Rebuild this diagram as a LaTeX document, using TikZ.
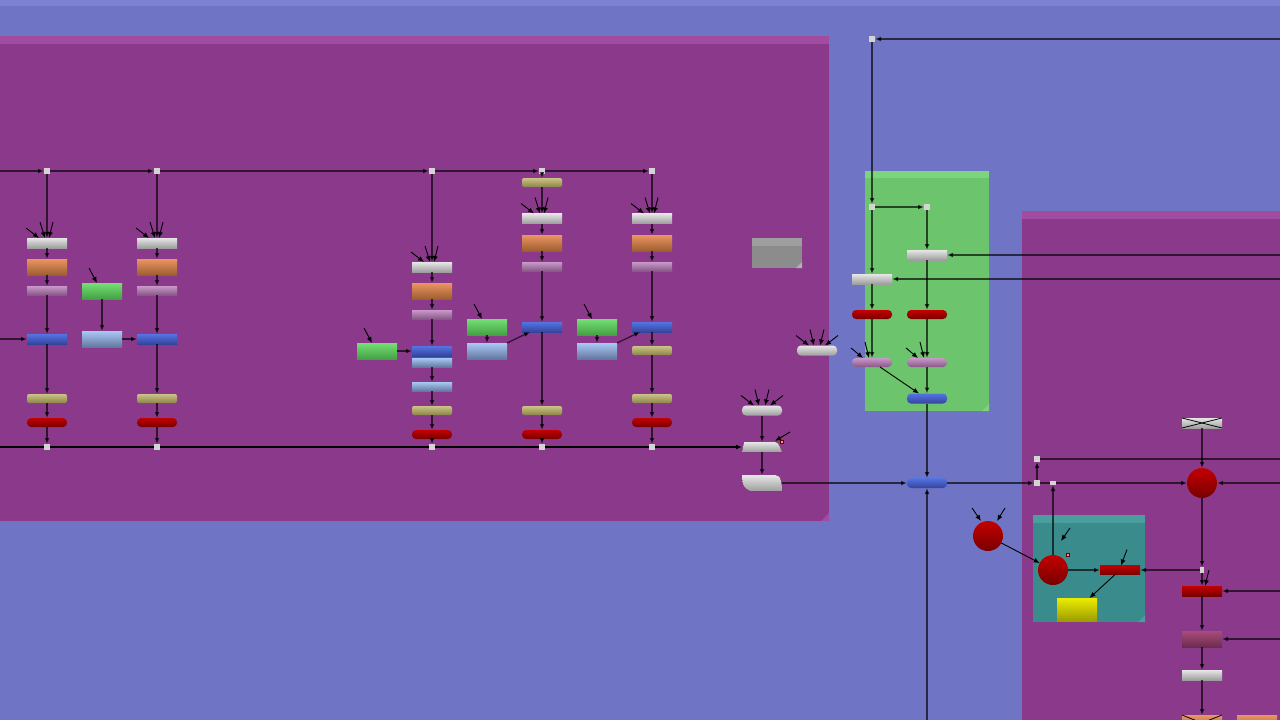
\documentclass[tikz,border=0pt]{standalone}
\usepackage{tikz}
\usetikzlibrary{shapes.geometric, arrows.meta, calc}

\definecolor{canvas}{HTML}{7074C4}
\definecolor{canvastop}{HTML}{7E82D2}
\definecolor{plumpanel}{HTML}{8B3A8B}
\definecolor{plumband}{HTML}{A04CA0}
\definecolor{greenpanel}{HTML}{6CC46C}
\definecolor{greenband}{HTML}{7CD47C}
\definecolor{tealpanel}{HTML}{3A8C8C}
\definecolor{tealband}{HTML}{4A9E9E}
\definecolor{joint}{HTML}{D4D4D4}
\definecolor{silverT}{HTML}{E6E6E6}
\definecolor{silverB}{HTML}{9E9E9E}
\definecolor{copperT}{HTML}{EC9462}
\definecolor{copperB}{HTML}{9C5E30}
\definecolor{lilacT}{HTML}{C898C8}
\definecolor{lilacB}{HTML}{885888}
\definecolor{cobaltT}{HTML}{5474E4}
\definecolor{cobaltB}{HTML}{34449C}
\definecolor{sandT}{HTML}{CCC484}
\definecolor{sandB}{HTML}{8C844C}
\definecolor{rubyT}{HTML}{C40000}
\definecolor{rubyB}{HTML}{780000}
\definecolor{leafT}{HTML}{74E074}
\definecolor{leafB}{HTML}{44A044}
\definecolor{skyT}{HTML}{A8C8F4}
\definecolor{skyB}{HTML}{6478A0}
\definecolor{lemonT}{HTML}{ECEC00}
\definecolor{lemonB}{HTML}{9C9C00}
\definecolor{wineT}{HTML}{A84C7C}
\definecolor{wineB}{HTML}{6C2C4C}

\tikzstyle{box} = [rectangle, minimum width=40, minimum height=10, inner sep=0, outer sep=0]
\tikzstyle{capsule} = [rounded corners=4]
\tikzstyle{silver} = [box, top color=silverT, bottom color=silverB]
\tikzstyle{copper} = [box, minimum height=16, top color=copperT, bottom color=copperB]
\tikzstyle{lilac} = [box, minimum height=9, top color=lilacT, bottom color=lilacB]
\tikzstyle{cobalt} = [box, top color=cobaltT, bottom color=cobaltB]
\tikzstyle{sand} = [box, minimum height=9, rounded corners=2, top color=sandT, bottom color=sandB]
\tikzstyle{ruby} = [box, minimum height=9, top color=rubyT, bottom color=rubyB]
\tikzstyle{leaf} = [box, minimum height=16, top color=leafT, bottom color=leafB]
\tikzstyle{sky} = [box, minimum height=16, top color=skyT, bottom color=skyB]
\tikzstyle{orb} = [circle, minimum size=30, inner sep=0, outer sep=0, top color=rubyT, bottom color=rubyB]
\tikzstyle{metal} = [top color=silverT, bottom color=silverB]
\tikzstyle{junction} = [rectangle, minimum size=6, inner sep=0, outer sep=0, fill=joint]
\tikzstyle{speck} = [rectangle, minimum size=3, inner sep=0, fill=red!45, draw=red!40!black, line width=0.4]
\tikzstyle{link} = [draw=black, draw opacity=0.65, line width=1.3, -{Latex[length=6,width=5]}]
\tikzstyle{line} = [draw=black, draw opacity=0.65, line width=1.3]
\tikzstyle{bus} = [draw=black, line width=1.6]
\tikzstyle{fan} = [black, line width=0.9, -{Latex[length=6,width=5]}]

\begin{document}
\begin{tikzpicture}[x=1pt, y=-1pt]

    % Background and panels
    \useasboundingbox (0,0) rectangle (1280,720);
    \fill[canvas] (0,0) rectangle (1280,720);
    \fill[canvastop] (0,0) rectangle (1280,6);
    \fill[plumpanel] (0,36) rectangle (829,521);
    \fill[plumband] (0,36) rectangle (829,44);
    \fill[plumband] (829,513) -- (829,521) -- (821,521) -- cycle;
    \fill[greenpanel] (865,171) rectangle (989,411);
    \fill[greenband] (865,171) rectangle (989,178);
    \fill[greenband] (989,404) -- (989,411) -- (982,411) -- cycle;
    \fill[plumpanel] (1022,211) rectangle (1280,720);
    \fill[plumband] (1022,211) rectangle (1280,219);
    \fill[tealpanel] (1033,515) rectangle (1145,622);
    \fill[tealband] (1033,515) rectangle (1145,523);
    \fill[tealband] (1145,615) -- (1145,622) -- (1138,622) -- cycle;
    \fill[black!45] (752,238) rectangle (802,268);
    \fill[black!38] (752,238) rectangle (802,246);
    \fill[black!30] (802,262) -- (802,268) -- (796,268) -- cycle;

    % Free ends
    \coordinate (west1) at (0,171);
    \coordinate (west2) at (0,447);
    \coordinate (west3) at (0,339);
    \coordinate (east0) at (1280,39);
    \coordinate (east1) at (1280,255);
    \coordinate (east2) at (1280,279);
    \coordinate (east3) at (1280,459);
    \coordinate (east4) at (1280,483);
    \coordinate (east5) at (1280,591);
    \coordinate (east6) at (1280,639);
    \coordinate (south0) at (927,720);

    % Column 1
    \node (split1) [junction] at (47,171) {};
    \node (white1) [silver] at (47,243) {};
    \node (orange1) [copper] at (47,267) {};
    \node (mauve1) [lilac] at (47,290.5) {};
    \node (blue1) [cobalt] at (47,339) {};
    \node (khaki1) [sand] at (47,398.5) {};
    \node (red1) [ruby, capsule] at (47,422.5) {};
    \node (join1) [junction] at (47,447) {};
    \node (green1) [leaf] at (102,291) {};
    \node (pale1) [sky] at (102,339) {};

    % Column 2
    \node (split2) [junction] at (157,171) {};
    \node (white2) [silver] at (157,243) {};
    \node (orange2) [copper] at (157,267) {};
    \node (mauve2) [lilac] at (157,290.5) {};
    \node (blue2) [cobalt] at (157,339) {};
    \node (khaki2) [sand] at (157,398.5) {};
    \node (red2) [ruby, capsule] at (157,422.5) {};
    \node (join2) [junction] at (157,447) {};

    % Column 3
    \node (split3) [junction] at (432,171) {};
    \node (white3) [silver] at (432,267) {};
    \node (orange3) [copper] at (432,291) {};
    \node (mauve3) [lilac] at (432,314.5) {};
    \node (blue3) [cobalt] at (432,351) {};
    \node (paleA3) [sky, minimum height=9] at (432,362.5) {};
    \node (paleB3) [sky, minimum height=9] at (432,386.5) {};
    \node (khaki3) [sand] at (432,410.5) {};
    \node (red3) [ruby, capsule] at (432,434.5) {};
    \node (join3) [junction] at (432,447) {};
    \node (green3) [leaf] at (377,351) {};
    \node (green4) [leaf] at (487,327) {};
    \node (pale4) [sky] at (487,351) {};

    % Column 4
    \node (split4) [junction] at (542,171) {};
    \node (khakiA4) [sand] at (542,182.5) {};
    \node (white4) [silver] at (542,218.5) {};
    \node (orange4) [copper] at (542,243) {};
    \node (mauve4) [lilac] at (542,266.5) {};
    \node (blue4) [cobalt] at (542,327) {};
    \node (khaki4) [sand] at (542,410.5) {};
    \node (red4) [ruby, capsule] at (542,434.5) {};
    \node (join4) [junction] at (542,447) {};
    \node (green5) [leaf] at (597,327) {};
    \node (pale5) [sky] at (597,351) {};

    % Column 5
    \node (split5) [junction] at (652,171) {};
    \node (white5) [silver] at (652,218.5) {};
    \node (orange5) [copper] at (652,243) {};
    \node (mauve5) [lilac] at (652,266.5) {};
    \node (blue5) [cobalt] at (652,327) {};
    \node (khakiA5) [sand] at (652,350.5) {};
    \node (khaki5) [sand] at (652,398.5) {};
    \node (red5) [ruby, capsule] at (652,422.5) {};
    \node (join5) [junction] at (652,447) {};

    % Top and bottom lines
    \draw [link] (west1) -- (split1);
    \draw [link] (split1) -- (split2);
    \draw [link] (split2) -- (split3);
    \draw [link] (split3) -- (split4);
    \draw [link] (split4) -- (split5);
    \draw [link] (west3) -- (blue1);
    \draw [bus] (west2) -- (join1) -- (join2) -- (join3) -- (join4) -- (join5);

    % Column chains
    \draw [link] (split1) -- (white1);
    \draw [link] (white1) -- (orange1);
    \draw [link] (orange1) -- (mauve1);
    \draw [link] (mauve1) -- (blue1);
    \draw [link] (blue1) -- (khaki1);
    \draw [link] (khaki1) -- (red1);
    \draw [link] (red1) -- (join1);
    \draw [link] (green1) -- (pale1);
    \draw [link] (pale1) -- (blue2);

    \draw [link] (split2) -- (white2);
    \draw [link] (white2) -- (orange2);
    \draw [link] (orange2) -- (mauve2);
    \draw [link] (mauve2) -- (blue2);
    \draw [link] (blue2) -- (khaki2);
    \draw [link] (khaki2) -- (red2);
    \draw [link] (red2) -- (join2);

    \draw [link] (split3) -- (white3);
    \draw [link] (white3) -- (orange3);
    \draw [link] (orange3) -- (mauve3);
    \draw [link] (mauve3) -- (blue3);
    \draw [link] (paleA3) -- (paleB3);
    \draw [link] (paleB3) -- (khaki3);
    \draw [link] (khaki3) -- (red3);
    \draw [link] (red3) -- (join3);
    \draw [link] (green3) -- (blue3);
    \draw [link] (green4) -- (pale4);
    \draw [link] (pale4.north east) -- ($(blue4.south west)+(8,0)$);

    \draw [link] (split4) -- (khakiA4);
    \draw [link] (khakiA4) -- (white4);
    \draw [link] (white4) -- (orange4);
    \draw [link] (orange4) -- (mauve4);
    \draw [link] (mauve4) -- (blue4);
    \draw [link] (blue4) -- (khaki4);
    \draw [link] (khaki4) -- (red4);
    \draw [link] (red4) -- (join4);
    \draw [link] (green5) -- (pale5);
    \draw [link] (pale5.north east) -- ($(blue5.south west)+(8,0)$);

    \draw [link] (split5) -- (white5);
    \draw [link] (white5) -- (orange5);
    \draw [link] (orange5) -- (mauve5);
    \draw [link] (mauve5) -- (blue5);
    \draw [link] (blue5) -- (khakiA5);
    \draw [link] (khakiA5) -- (khaki5);
    \draw [link] (khaki5) -- (red5);
    \draw [link] (red5) -- (join5);

    % Incoming fans
    \draw [fan] ($(white1.north)+(-21,-10)$) -- ($(white1.north)+(-8,0)$);
    \draw [fan] ($(white1.north)+(-7,-16)$) -- ($(white1.north)+(-2,0)$);
    \draw [fan] ($(white1.north)+(6,-16)$) -- ($(white1.north)+(2,0)$);
    \draw [fan] ($(white2.north)+(-21,-10)$) -- ($(white2.north)+(-8,0)$);
    \draw [fan] ($(white2.north)+(-7,-16)$) -- ($(white2.north)+(-2,0)$);
    \draw [fan] ($(white2.north)+(6,-16)$) -- ($(white2.north)+(2,0)$);
    \draw [fan] ($(white3.north)+(-21,-10)$) -- ($(white3.north)+(-8,0)$);
    \draw [fan] ($(white3.north)+(-7,-16)$) -- ($(white3.north)+(-2,0)$);
    \draw [fan] ($(white3.north)+(6,-16)$) -- ($(white3.north)+(2,0)$);
    \draw [fan] ($(white4.north)+(-21,-10)$) -- ($(white4.north)+(-8,0)$);
    \draw [fan] ($(white4.north)+(-7,-16)$) -- ($(white4.north)+(-2,0)$);
    \draw [fan] ($(white4.north)+(6,-16)$) -- ($(white4.north)+(2,0)$);
    \draw [fan] ($(white5.north)+(-21,-10)$) -- ($(white5.north)+(-8,0)$);
    \draw [fan] ($(white5.north)+(-7,-16)$) -- ($(white5.north)+(-2,0)$);
    \draw [fan] ($(white5.north)+(6,-16)$) -- ($(white5.north)+(2,0)$);
    \draw [fan] ($(green1.north)+(-13,-15)$) -- ($(green1.north)+(-5,0)$);
    \draw [fan] ($(green3.north)+(-13,-15)$) -- ($(green3.north)+(-5,0)$);
    \draw [fan] ($(green4.north)+(-13,-15)$) -- ($(green4.north)+(-5,0)$);
    \draw [fan] ($(green5.north)+(-13,-15)$) -- ($(green5.north)+(-5,0)$);

    % Middle group
    \node (paleA) [silver, capsule] at (762,410.5) {};
    \node (slant) [box] at (762,447) {};
    \node (card) [box, minimum height=16] at (762,483) {};
    \node (paleB) [silver, capsule] at (817,350.5) {};
    \fill [metal] (slant.south west) -- ($(slant.north west)+(2,0)$) -- ($(slant.north east)+(-10,0)$)
        .. controls ($(slant.north east)+(-4,0)$) .. (slant.south east) -- cycle;
    \fill [metal] (card.north west) .. controls ($(card.west)+(1,4)$) .. ($(card.south west)+(8,0)$)
        -- (card.south east) -- ($(card.east)+(0,4)$) .. controls ($(card.north east)+(-2,0)$) .. ($(card.north east)+(-12,0)$) -- cycle;
    \node (spot1) [speck] at (782,442) {};
    \draw [bus, -{Latex[length=6,width=5]}] (join5) -- (slant.west);
    \draw [link] (paleA) -- (slant);
    \draw [link] (slant) -- (card);
    \draw [fan] ($(slant.center)+(28,-15)$) -- ($(slant.center)+(13,-6)$);
    \draw [fan] ($(paleA.north)+(-21,-10)$) -- ($(paleA.north)+(-8,0)$);
    \draw [fan] ($(paleA.north)+(-7,-16)$) -- ($(paleA.north)+(-3,0)$);
    \draw [fan] ($(paleA.north)+(7,-16)$) -- ($(paleA.north)+(3,0)$);
    \draw [fan] ($(paleA.north)+(21,-10)$) -- ($(paleA.north)+(8,0)$);
    \draw [fan] ($(paleB.north)+(-21,-10)$) -- ($(paleB.north)+(-8,0)$);
    \draw [fan] ($(paleB.north)+(-7,-16)$) -- ($(paleB.north)+(-3,0)$);
    \draw [fan] ($(paleB.north)+(7,-16)$) -- ($(paleB.north)+(3,0)$);
    \draw [fan] ($(paleB.north)+(21,-10)$) -- ($(paleB.north)+(8,0)$);

    % Green group
    \node (split6) [junction] at (872,39) {};
    \node (split7) [junction] at (872,207) {};
    \node (split8) [junction] at (927,207) {};
    \node (paleC) [silver] at (872,279) {};
    \node (paleD) [silver] at (927,255) {};
    \node (redC) [ruby, capsule] at (872,314.5) {};
    \node (redD) [ruby, capsule] at (927,314.5) {};
    \node (mauveC) [lilac, capsule] at (872,362.5) {};
    \node (mauveD) [lilac, capsule] at (927,362.5) {};
    \node (blueE) [cobalt, capsule] at (927,398.5) {};
    \node (blueF) [cobalt, capsule] at (927,483) {};
    \draw [link] (east0) -- (split6);
    \draw [link] (split6) -- (split7);
    \draw [link] (split7) -- (split8);
    \draw [link] (split7) -- (paleC);
    \draw [link] (split8) -- (paleD);
    \draw [link] (east1) -- (paleD.east);
    \draw [link] (east2) -- (paleC.east);
    \draw [link] (paleC) -- (redC);
    \draw [link] (paleD) -- (redD);
    \draw [link] (redC) -- (mauveC);
    \draw [link] (redD) -- (mauveD);
    \draw [fan] ($(mauveC.north)+(-21,-10)$) -- ($(mauveC.north)+(-9,0)$);
    \draw [fan] ($(mauveC.north)+(-7,-16)$) -- ($(mauveC.north)+(-3,0)$);
    \draw [fan] ($(mauveD.north)+(-21,-10)$) -- ($(mauveD.north)+(-9,0)$);
    \draw [fan] ($(mauveD.north)+(-7,-16)$) -- ($(mauveD.north)+(-3,0)$);
    \draw [fan] ($(mauveC.south)+(8,0)$) -- ($(blueE.north west)+(12,0)$);
    \draw [link] (mauveD) -- (blueE);
    \draw [link] (blueE) -- (blueF);
    \draw [link] (south0) -- (blueF);
    \draw [link] (card.east) -- (blueF);

    % Right group
    \node (split9) [junction] at (1037,483) {};
    \node (split10) [junction] at (1037,459) {};
    \node (split11) [junction, minimum height=4] at (1053,483) {};
    \node (cross) [silver] at (1202,423) {};
    \node (orbA) [orb] at (1202,483) {};
    \node (orbB) [orb] at (988,536) {};
    \node (orbC) [orb] at (1053,570) {};
    \node (spot2) [speck] at (1068,555) {};
    \node (redR) [ruby] at (1120,570) {};
    \node (lemon) [box, minimum height=23, top color=lemonT, bottom color=lemonB] at (1077,609.5) {};
    \node (split12) [junction, minimum width=4] at (1202,570) {};
    \node (redS) [ruby, minimum height=10] at (1202,591) {};
    \node (wine) [box, minimum height=16, top color=wineT, bottom color=wineB] at (1202,639) {};
    \node (paleE) [silver] at (1202,675) {};
    \node (crossB) [copper] at (1202,723) {};
    \node (orangeB) [copper] at (1257,723) {};
    \draw [black, line width=0.8] (cross.north west) -- (cross.south east);
    \draw [black, line width=0.8] (cross.south west) -- (cross.north east);
    \draw [black, line width=0.8] (crossB.north west) -- (crossB.south east);
    \draw [black, line width=0.8] (crossB.south west) -- (crossB.north east);

    \draw [link] (blueF) -- (split9);
    \draw [link] (split9) -- (split10);
    \draw [line] (split10) -- (east3);
    \draw [line] (split9) -- (split11);
    \draw [link] (split11) -- (orbA);
    \draw [link] (east4) -- (orbA);
    \draw [link] (cross) -- (orbA);
    \draw [link] (orbA) -- (split12);
    \draw [link] (split12) -- (redS);
    \draw [link] (split12) -- (redR);
    \draw [link] (east5) -- (redS);
    \draw [link] (redS) -- (wine);
    \draw [link] (east6) -- (wine);
    \draw [link] (wine) -- (paleE);
    \draw [link] (paleE) -- (crossB);
    \draw [fan] ($(redS.north)+(7,-16)$) -- ($(redS.north)+(3,0)$);

    \draw [fan] ($(orbB.north)+(-16,-13)$) -- ($(orbB.north)+(-7,0)$);
    \draw [fan] ($(orbB.north)+(17,-13)$) -- ($(orbB.north)+(9,0)$);
    \draw [fan] (orbB) -- (orbC);
    \draw [link] (orbC) -- (split11);
    \draw [fan] ($(orbC.north)+(17,-27)$) -- ($(orbC.north)+(8,-14)$);
    \draw [link] (orbC) -- (redR);
    \draw [fan] ($(redR.north)+(7,-16)$) -- ($(redR.north)+(1,0)$);
    \draw [fan] (redR) -- (lemon);

\end{tikzpicture}
\end{document}
